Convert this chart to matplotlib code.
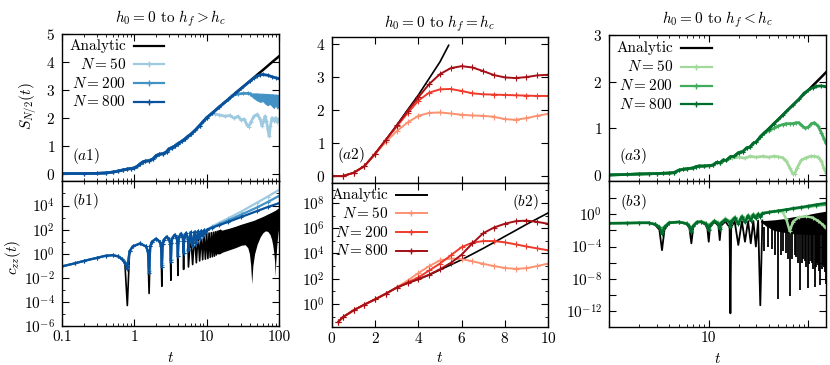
import numpy as np
import matplotlib
matplotlib.use('Agg')
import matplotlib.pyplot as plt
from matplotlib.ticker import FixedLocator, NullFormatter

plt.rcParams['font.family'] = 'serif'
plt.rcParams['font.serif'] = ['cmr10']
plt.rcParams['mathtext.fontset'] = 'cm'
plt.rcParams['axes.unicode_minus'] = False
plt.rcParams['axes.formatter.use_mathtext'] = True
plt.rcParams['font.size'] = 11

# colours for N = 50, 200, 800
blues = ['#9ecae1', '#4292c6', '#08519c']
reds = ['#fc9272', '#ef3b2c', '#a50f15']
greens = ['#a1d99b', '#41ab5d', '#006d2c']
labels = ['Analytic', r'$N=50$', r'$N=200$', r'$N=800$']

# ---------------- (a1) entanglement, h_f > h_c ----------------
a1_t = [0.1, 0.2, 0.3, 0.4, 0.5, 0.6, 0.7, 0.8, 0.9, 1.0,
        1.1, 1.2, 1.3, 1.4, 1.6, 1.8, 2.0, 2.2, 2.5, 2.8,
        3.0, 3.3, 3.6, 4.0, 4.5, 5.0, 5.5, 6.0, 7.0, 8.0,
        9.0, 10, 12, 15, 20, 25, 30, 40, 50, 60,
        70, 80, 100]
a1_analytic = [0.0, 0.0, 0.005, 0.02, 0.05, 0.09, 0.13, 0.16, 0.18, 0.2,
               0.26, 0.34, 0.41, 0.44, 0.46, 0.52, 0.64, 0.69, 0.71, 0.78,
               0.88, 0.93, 0.98, 1.07, 1.15, 1.24, 1.33, 1.4, 1.56, 1.72,
               1.87, 2.0, 2.17, 2.39, 2.66, 2.88, 3.05, 3.32, 3.54, 3.71,
               3.86, 3.99, 4.2]
a1_t50 = [13, 15, 18, 21, 24, 27, 30, 33, 36, 38, 41, 45, 50, 55, 58, 61, 64,
          67, 70, 73, 76, 80, 85, 90, 95, 100]
a1_s50 = [2.13, 2.1, 2.05, 2.08, 1.98, 2.05, 1.92, 1.95, 1.75, 1.68, 1.85, 2.05,
          2.12, 1.95, 1.72, 1.85, 2.05, 1.9, 1.6, 1.35, 1.7, 2.0, 1.9, 2.0, 1.85, 1.95]
a1_t200 = [23, 27, 32, 37, 40]
a1_s200 = [2.8, 2.85, 2.87, 2.87, 2.86]
a1_band_t = [40, 45, 50, 55, 60, 65, 70, 75, 80, 85, 90, 95, 100]
a1_band_hi = [2.87, 2.87, 2.87, 2.86, 2.86, 2.85, 2.85, 2.84, 2.84, 2.83, 2.83, 2.82, 2.82]
a1_band_lo = [2.82, 2.7, 2.62, 2.57, 2.6, 2.5, 2.45, 2.5, 2.42, 2.35, 2.45, 2.33, 2.5]
a1_t800 = [45, 50, 55, 60, 70, 80, 90, 100]
a1_s800 = [3.43, 3.5, 3.54, 3.55, 3.52, 3.47, 3.43, 3.4]

# ---------------- (b1) correlation, log10 values ----------------
b1_t = [0.1, 0.15, 0.2, 0.3, 0.4, 0.5, 0.6, 0.68, 0.74, 0.8,
        0.86, 0.95, 1.2, 1.45, 1.54, 1.6,
        1.66, 1.75, 2.0, 2.25, 2.34, 2.4,
        2.46, 2.55, 2.8, 3.05, 3.14, 3.2,
        3.26, 3.35, 3.6, 3.85, 3.94, 4.0,
        4.06, 4.15, 4.4, 4.65, 4.74, 4.8,
        4.86, 4.95, 5.2, 5.5, 5.6,
        6.0, 6.4, 6.8, 7.2, 7.6, 8.0,
        8.4, 8.8, 9.2, 9.6, 10.0,
        10.4, 10.8, 11.2, 11.6, 12.0,
        12.4, 12.8, 13.2, 13.6, 14.0,
        14.4, 14.8, 15.2, 15.6, 16.0]
b1_black = [-1.05, -0.8, -0.6, -0.35, -0.17, -0.12, -0.22, -0.47, -0.78, -4.3,
            0.2, 0.6, 0.85, 0.6, 0.2, -3.3,
            0.6, 1.0, 1.25, 1.0, 0.6, -2.7,
            0.77, 1.15, 1.4, 1.15, 0.77, -2.2,
            0.92, 1.3, 1.55, 1.3, 0.92, -1.8,
            1.02, 1.4, 1.65, 1.4, 1.02, -1.3,
            1.05, 1.43, 1.68, 1.26, -1.1,
            1.65, -0.9, 1.65, -0.75, 1.66, -0.6,
            1.68, -0.5, 1.69, -0.45, 1.7,
            -0.4, 1.72, -0.3, 1.75, -0.25,
            1.78, -0.2, 1.82, -0.1, 1.86,
            0.0, 1.9, 0.0, 1.95, 0.1]
b1_n800 = [-1.05, -0.8, -0.6, -0.35, -0.17, -0.12, -0.22, -0.47, -0.78, -1.25,
           0.2, 0.6, 0.85, 0.6, 0.2, -1.6,
           0.6, 1.0, 1.25, 1.0, 0.6, -1.07,
           0.77, 1.15, 1.42, 1.15, 0.77, -0.65,
           0.92, 1.3, 1.57, 1.3, 0.92, -0.23,
           1.02, 1.4, 1.67, 1.4, 1.02, 0.04,
           1.05, 1.45, 1.73, 1.26, 0.32,
           1.78, 0.6, 1.82, 0.9, 1.86, 1.2,
           1.9, 1.45, 1.94, 1.7, 1.98]
b1_n200 = [-1.05, -0.8, -0.6, -0.35, -0.17, -0.12, -0.22, -0.45, -0.72, -1.15,
           0.22, 0.6, 0.85, 0.6, 0.22, -1.45,
           0.6, 1.0, 1.25, 1.0, 0.62, -0.95,
           0.78, 1.15, 1.42, 1.15, 0.78, -0.55,
           0.93, 1.3, 1.57, 1.3, 0.93, -0.15,
           1.03, 1.4, 1.67, 1.4, 1.03, 0.1,
           1.06, 1.45, 1.73, 1.3, 0.4,
           1.79, 0.7, 1.83, 1.0, 1.87, 1.28,
           1.91, 1.52, 1.95, 1.75, 1.99]
b1_n50 = [-1.05, -0.8, -0.6, -0.35, -0.17, -0.12, -0.22, -0.42, -0.65, -0.95,
          0.25, 0.62, 0.86, 0.62, 0.25, -1.25,
          0.62, 1.0, 1.26, 1.0, 0.65, -0.8,
          0.8, 1.16, 1.43, 1.16, 0.8, -0.4,
          0.95, 1.31, 1.58, 1.31, 0.95, -0.05,
          1.05, 1.41, 1.68, 1.41, 1.05, 0.2,
          1.08, 1.46, 1.74, 1.35, 0.5,
          1.8, 0.8, 1.84, 1.08, 1.88, 1.35,
          1.92, 1.58, 1.96, 1.8, 2.0]
b1_tail_t = [12, 15, 20, 30, 50, 70, 100]
b1_tail800 = [2.17, 2.38, 2.65, 3.05, 3.55, 3.88, 4.2]
b1_tail200 = [2.2, 2.45, 2.78, 3.25, 3.85, 4.3, 4.8]
b1_tail50 = [2.28, 2.58, 2.95, 3.5, 4.25, 4.75, 5.3]
b1_env_t = [14, 16, 20, 25, 30, 34, 37, 39, 40.5, 42, 43.5, 46, 50, 55, 60, 65,
            70, 75, 79, 82, 85, 87, 88.5, 90, 93, 96, 100]
b1_env_lo = [0.0, 0.1, 0.3, 0.5, 0.7, 0.75, 0.5, 0.0, -0.9, -2.5, -1.0, 0.0, 0.8,
             1.4, 1.75, 1.9, 1.85, 1.6, 1.2, 0.7, 0.0, -0.7, -1.9, -0.8, 0.6, 1.5, 2.4]
b1_env_hi = [1.88, 1.95, 2.1, 2.28, 2.45, 2.55, 2.62, 2.66, 2.69, 2.72, 2.75, 2.8,
             2.9, 3.0, 3.1, 3.2, 3.3, 3.38, 3.45, 3.5, 3.55, 3.58, 3.6, 3.63, 3.7,
             3.75, 3.8]

# ---------------- (a2) / (b2) h_f = h_c ----------------
a2_t_an = [0, 0.5, 1.0, 1.5, 2.0, 2.5, 3.0, 3.5, 4.0, 4.5, 5.0, 5.4]
a2_an = [0, 0.0, 0.1, 0.3, 0.68, 1.1, 1.54, 2.0, 2.45, 2.95, 3.45, 3.95]
a2_t = [0, 0.5, 1.0, 1.5, 2.0, 2.5, 3.0, 3.5, 4.0, 4.5, 5.0, 5.5, 6.0, 6.5,
        7.0, 7.5, 8.0, 8.5, 9.0, 9.5, 10.0]
a2_n800 = [0, 0.0, 0.1, 0.3, 0.68, 1.1, 1.53, 1.97, 2.38, 2.78, 3.08, 3.26, 3.32,
           3.28, 3.17, 3.05, 2.98, 2.96, 2.99, 3.04, 3.06]
a2_n200 = [0, 0.0, 0.1, 0.3, 0.68, 1.1, 1.5, 1.9, 2.28, 2.52, 2.62, 2.63, 2.57,
           2.5, 2.47, 2.46, 2.45, 2.44, 2.43, 2.42, 2.42]
a2_n50 = [0, 0.0, 0.1, 0.3, 0.66, 1.04, 1.36, 1.62, 1.82, 1.91, 1.92, 1.89, 1.85,
          1.83, 1.82, 1.79, 1.72, 1.7, 1.75, 1.82, 1.88]

b2_t = [0.3, 0.5, 1.0, 1.5, 2.0, 2.5, 3.0, 3.5, 4.0, 4.5, 5.0, 5.5, 6.0, 6.5,
        7.0, 7.5, 8.0, 8.5, 9.0, 9.5, 10.0]
b2_an = [-1.4, -1.05, -0.5, -0.05, 0.37, 0.82, 1.3, 1.65, 1.96, 2.3, 2.7, 3.1,
         3.5, 3.95, 4.4, 4.87, 5.35, 5.82, 6.3, 6.75, 7.2]
b2_n800 = [-1.4, -1.05, -0.5, -0.05, 0.37, 0.82, 1.3, 1.65, 1.96, 2.32, 2.75,
           3.25, 3.9, 4.8, 5.6, 6.05, 6.35, 6.55, 6.6, 6.5, 6.35]
b2_n200 = [-1.4, -1.05, -0.5, -0.05, 0.37, 0.82, 1.3, 1.7, 2.1, 2.65, 3.2, 3.85,
           4.5, 4.85, 4.98, 4.98, 4.88, 4.72, 4.55, 4.4, 4.25]
b2_n50 = [-1.4, -1.05, -0.5, -0.05, 0.37, 0.82, 1.32, 1.85, 2.45, 3.0, 3.45, 3.6,
          3.55, 3.38, 3.18, 3.0, 2.85, 2.78, 2.83, 3.0, 3.2]

# ---------------- (a3) h_f < h_c ----------------
a3_t = [1, 1.5, 2, 2.5, 3, 3.5, 4, 4.5, 5, 5.5,
        6, 7, 7.5, 8, 9, 10, 11, 12, 13, 14,
        15, 16.5, 18, 20, 22, 24, 26, 28, 30, 33,
        36, 40, 45, 50, 55, 60, 70, 80, 90, 100,
        110, 120, 135, 150]
a3_an = [0.0, 0.01, 0.02, 0.025, 0.03, 0.035, 0.04, 0.05, 0.1, 0.12,
         0.13, 0.15, 0.18, 0.19, 0.19, 0.2, 0.21, 0.27, 0.26, 0.32,
         0.31, 0.39, 0.4, 0.48, 0.5, 0.58, 0.6, 0.68, 0.71, 0.82,
         0.9, 0.99, 1.1, 1.19, 1.28, 1.36, 1.5, 1.62, 1.73, 1.82,
         1.91, 1.99, 2.1, 2.2]
a3_t800 = [90, 100, 110, 120, 135, 150]
a3_s800 = [1.75, 1.82, 1.87, 1.9, 1.91, 1.89]
a3_t200 = [40, 45, 50, 55, 60, 65, 70, 75, 80, 87, 93, 100, 107, 115, 125, 135, 143, 150]
a3_s200 = [0.95, 1.0, 1.05, 1.08, 1.1, 1.1, 1.1, 1.12, 1.12, 1.05, 1.0, 1.03, 1.1,
           1.12, 1.05, 0.9, 0.78, 0.68]
a3_t50 = [17, 20, 23, 26, 30, 35, 40, 45, 50, 55, 60, 65, 70, 73, 77, 85, 95, 105,
          115, 125, 135, 142, 150]
a3_s50 = [0.36, 0.38, 0.36, 0.4, 0.38, 0.4, 0.38, 0.4, 0.39, 0.37, 0.3, 0.15, 0.02,
          0.03, 0.15, 0.32, 0.37, 0.4, 0.4, 0.38, 0.3, 0.15, 0.05]

# ---------------- (b3) log10 values ----------------
b3_t = [1.0, 1.5, 2.0, 2.5, 2.9, 3.2, 3.4, 3.6, 4.0, 5.0, 6.0, 6.4, 6.7, 7.0, 7.6,
        8.4, 9.3, 9.7, 10.0, 10.3, 11.4, 12.5, 12.9, 13.3, 14.7, 16.2, 16.5, 16.8,
        18.2, 19.8, 21.5, 23.1, 24.8, 26.4, 28.0, 29.7, 31.3, 32.9, 34.5]
b3_black = [-1.1, -1.08, -1.05, -1.05, -1.3, -1.9, -4.45, -1.9, -1.1, -0.95, -1.2,
            -1.7, -3.6, -1.6, -1.0, -0.95, -1.3, -1.8, -3.4, -1.6, -0.92, -1.4, -3.2,
            -1.4, -0.9, -1.6, -12.3, -1.6, -0.85, -3.8, -0.85, -3.4, -0.82, -3.6,
            -0.8, -4.0, -0.78, -11.3, -0.75]
b3_n800 = [-1.1, -1.08, -1.05, -1.05, -1.25, -1.6, -2.4, -1.6, -1.05, -0.95, -1.15,
           -1.5, -2.2, -1.45, -0.98, -0.92, -1.15, -1.5, -2.0, -1.35, -0.85, -1.15,
           -1.8, -1.1, -0.65, -1.0, -1.6, -0.95, -0.45, -1.2, -0.3, -1.0, -0.2, -0.8,
           -0.08, -0.5, 0.02, -0.3, 0.1]
b3_n200 = [-1.1, -1.08, -1.05, -1.05, -1.22, -1.55, -2.2, -1.55, -1.02, -0.94, -1.12,
           -1.45, -2.05, -1.4, -0.95, -0.9, -1.1, -1.42, -1.85, -1.28, -0.8, -1.08,
           -1.62, -1.02, -0.58, -0.9, -1.4, -0.85, -0.38, -1.05, -0.22, -0.85, -0.12,
           -0.65, 0.0, -0.4, 0.07, -0.22, 0.15]
b3_n50 = [-1.1, -1.08, -1.05, -1.05, -1.2, -1.5, -2.0, -1.5, -1.0, -0.93, -1.1,
          -1.4, -1.9, -1.35, -0.9, -0.85, -1.05, -1.35, -1.7, -1.2, -0.75, -1.0,
          -1.45, -0.95, -0.5, -0.8, -1.2, -0.75, -0.3, -0.9, -0.15, -0.7, -0.05,
          -0.5, 0.05, -0.3, 0.12, -0.15, 0.2]
b3_tail_t = [40, 50, 60, 70, 85, 100, 120, 150]
b3_tail800 = [0.25, 0.45, 0.6, 0.75, 0.9, 1.05, 1.22, 1.4]
b3_tail200 = [0.27, 0.45, 0.58, 0.7, 0.83, 0.95, 1.08, 1.2]
b3_t50 = [40, 45, 50, 55, 60, 65, 70, 80, 95, 110, 125, 140, 150]
b3_s50 = [0.3, 0.38, 0.4, 0.3, -0.6, -2.1, -0.9, -0.35, -0.25, -0.4, -0.8, -1.3, -1.7]
b3_env_t = [33, 38, 45, 55, 70, 85, 100, 120, 150]
b3_env_hi = [-0.78, -0.74, -0.68, -0.55, -0.3, -0.15, 0.0, 0.2, 0.4]
b3_env_lo = [-0.9, -1.5, -2.0, -2.2, -2.4, -2.45, -2.5, -2.5, -2.5]
b3_spike_t = [36.2, 39.5, 42.8, 46.1, 49.4, 52.7, 56.0, 59.3, 62.6, 65.9, 69.2, 72.5,
              75.8, 79.1, 82.4, 85.7, 89.0, 92.3, 95.6, 98.9, 102.2, 105.5, 108.8,
              112.1, 115.4, 118.7, 122.0, 125.3, 128.6, 131.9, 135.2, 138.5, 141.8,
              145.1, 148.4]
b3_spike = [-4.5, -4.0, -4.3, -5.0, -10.5, -5.0, -4.5, -4.8, -5.5, -10.1, -5.5, -5.0,
            -5.3, -6.0, -9.4, -6.0, -5.5, -5.8, -6.5, -9.2, -6.2, -5.8, -6.0, -6.8,
            -9.0, -6.5, -6.0, -6.3, -7.0, -8.8, -6.8, -6.3, -6.5, -7.2, -8.6]


def lg(v):
    return 10.0 ** np.asarray(v, dtype=float)


def box(x0, y0, x1, y1):
    return [x0 / 830, 1 - y1 / 365, (x1 - x0) / 830, (y1 - y0) / 365]


def style(ax):
    ax.tick_params(which='both', direction='in', top=True, right=True, labelsize=11)
    ax.tick_params(which='major', length=5, width=0.8, pad=5)
    ax.tick_params(which='minor', length=2.5, width=0.6)
    ax.tick_params(axis='x', which='both', pad=3)
    for s in ax.spines.values():
        s.set_linewidth(1.0)


def legend(ax, xt, x0, x1, ys, cols, lw):
    for i in range(4):
        ax.text(xt, ys[i], labels[i], transform=ax.transAxes, ha='right',
                va='center', fontsize=11)
        ax.plot([x0, (x0 + x1) / 2, x1], [ys[i]] * 3, transform=ax.transAxes,
                color=cols[i], lw=lw, marker='+' if i else None, markevery=[1],
                ms=4, clip_on=False)


fig = plt.figure(figsize=(8.3, 3.65), dpi=100)
a1 = fig.add_axes(box(62, 34, 279, 180.5))
b1 = fig.add_axes(box(62, 180.5, 279, 326))
a2 = fig.add_axes(box(332, 37, 548, 182.7))
b2 = fig.add_axes(box(332, 182.7, 548, 326.7))
a3 = fig.add_axes(box(609, 35, 826, 181))
b3 = fig.add_axes(box(609, 181, 826, 327))

mk = dict(marker='+', ms=3.5, mew=0.8)

# (a1)
a1.plot(a1_t, a1_analytic, color='k', lw=1.8)
a1.plot(a1_t[:33] + a1_t50, a1_analytic[:33] + a1_s50, color=blues[0], lw=2, **mk)
a1.plot(a1_t[:35] + a1_t200, a1_analytic[:35] + a1_s200, color=blues[1], lw=2, **mk)
a1.fill_between(a1_band_t, a1_band_lo, a1_band_hi, color=blues[1], lw=0.8)
a1.plot(a1_t[:38] + a1_t800, a1_analytic[:38] + a1_s800, color=blues[2], lw=2, **mk)
a1.set_xscale('log')
a1.set_xlim(0.1, 100)
a1.set_ylim(-0.25, 5)
a1.set_yticks([0, 1, 2, 3, 4, 5])
a1.set_xticks([0.1, 1, 10, 100])
a1.tick_params(labelbottom=False)
a1.set_ylabel(r'$S_{N/2}(t)$', fontsize=11)
a1.yaxis.set_label_coords(-0.105, 0.51)
a1.set_title(r'$h_0=0$ to $h_f>h_c$', fontsize=11, pad=8)
a1.text(0.045, 0.17, r'$(a1)$', transform=a1.transAxes, va='center', fontsize=11)
legend(a1, 0.295, 0.33, 0.47, [0.92, 0.792, 0.664, 0.536], ['k'] + blues, 1.6)

# (b1)
b1.plot(b1_t, lg(b1_black), color='k', lw=1.2)
b1.fill_between(b1_env_t, lg(b1_env_lo), lg(b1_env_hi), color='k', lw=0)
for vals, tail, c in [(b1_n50, b1_tail50, blues[0]), (b1_n200, b1_tail200, blues[1]),
                      (b1_n800, b1_tail800, blues[2])]:
    b1.plot(b1_t[:56] + b1_tail_t, lg(vals + tail), color=c, lw=1.6, **mk)
b1.set_xscale('log')
b1.set_yscale('log')
b1.set_xlim(0.1, 100)
b1.set_ylim(1e-6, 1.2e6)
b1.set_xticks([0.1, 1, 10, 100], ['0.1', '1', '10', '100'])
b1.set_yticks([1e-6, 1e-4, 1e-2, 1, 1e2, 1e4],
              [r'$10^{-6}$', r'$10^{-4}$', r'$10^{-2}$', r'$10^{0}$', r'$10^{2}$', r'$10^{4}$'])
b1.yaxis.set_minor_locator(FixedLocator([1e-5, 1e-3, 1e-1, 1e1, 1e3, 1e5]))
b1.yaxis.set_minor_formatter(NullFormatter())
b1.set_ylabel(r'$c_{zz}(t)$', fontsize=11)
b1.yaxis.set_label_coords(-0.18, 0.47)
b1.set_xlabel(r'$t$', fontsize=11)
b1.xaxis.set_label_coords(0.5, -0.17)
b1.text(0.045, 0.857, r'$(b1)$', transform=b1.transAxes, va='center', fontsize=11)

# (a2)
a2.plot(a2_t_an, a2_an, color='k', lw=1.2)
for vals, c in [(a2_n50, reds[0]), (a2_n200, reds[1]), (a2_n800, reds[2])]:
    a2.plot(a2_t, vals, color=c, lw=1.4, marker='+', ms=4, mew=0.8)
a2.set_xlim(0, 10)
a2.set_ylim(-0.2, 4.2)
a2.set_xticks([0, 2, 4, 6, 8, 10])
a2.set_yticks([0, 1, 2, 3, 4])
a2.tick_params(labelbottom=False)
a2.set_title(r'$h_0=0$ to $h_f=h_c$', fontsize=11, pad=7)
a2.text(0.025, 0.19, r'$(a2)$', transform=a2.transAxes, va='center', fontsize=11)

# (b2)
b2.plot(b2_t, lg(b2_an), color='k', lw=1.2)
for vals, c in [(b2_n50, reds[0]), (b2_n200, reds[1]), (b2_n800, reds[2])]:
    b2.plot(b2_t, lg(vals), color=c, lw=1.4, marker='+', ms=4, mew=0.8)
b2.set_yscale('log')
b2.set_xlim(0, 10)
b2.set_ylim(10 ** -1.8, 10 ** 9.6)
b2.set_xticks([0, 2, 4, 6, 8, 10])
b2.set_yticks([1, 1e2, 1e4, 1e6, 1e8],
              [r'$10^{0}$', r'$10^{2}$', r'$10^{4}$', r'$10^{6}$', r'$10^{8}$'])
b2.yaxis.set_minor_locator(FixedLocator([1e-1, 1e1, 1e3, 1e5, 1e7, 1e9]))
b2.yaxis.set_minor_formatter(NullFormatter())
b2.set_xlabel(r'$t$', fontsize=11)
b2.xaxis.set_label_coords(0.5, -0.17)
b2.text(0.955, 0.868, r'$(b2)$', transform=b2.transAxes, ha='right', va='center', fontsize=11)
legend(b2, 0.261, 0.296, 0.438, [0.915, 0.788, 0.656, 0.526], ['k'] + reds, 1.4)

# (a3)
a3.plot(a3_t, a3_an, color='k', lw=1.8)
a3.plot(a3_t[:21] + a3_t50, a3_an[:21] + a3_s50, color=greens[0], lw=2, **mk)
a3.plot(a3_t[:31] + a3_t200, a3_an[:31] + a3_s200, color=greens[1], lw=2, **mk)
a3.plot(a3_t[:38] + a3_t800, a3_an[:38] + a3_s800, color=greens[2], lw=2, **mk)
a3.set_xscale('log')
a3.set_xlim(1, 150)
a3.set_ylim(-0.13, 3)
a3.set_yticks([0, 1, 2, 3])
a3.set_xticks([1, 10, 100])
a3.tick_params(labelbottom=False)
a3.set_title(r'$h_0=0$ to $h_f<h_c$', fontsize=11, pad=8)
a3.text(0.047, 0.171, r'$(a3)$', transform=a3.transAxes, va='center', fontsize=11)
legend(a3, 0.294, 0.331, 0.474, [0.913, 0.783, 0.653, 0.525], ['k'] + greens, 1.6)

# (b3)
b3.plot(b3_t, lg(b3_black), color='k', lw=1.3)
b3.fill_between(b3_env_t, lg(b3_env_lo), lg(b3_env_hi), color='k', lw=0)
b3.vlines(b3_spike_t, lg(b3_spike), 10 ** -1.6, color='k', lw=1.3)
b3.plot(b3_t + b3_t50, lg(b3_n50 + b3_s50), color=greens[0], lw=1.8, **mk)
b3.plot(b3_t + b3_tail_t, lg(b3_n200 + b3_tail200), color=greens[1], lw=1.8, **mk)
b3.plot(b3_t + b3_tail_t, lg(b3_n800 + b3_tail800), color=greens[2], lw=1.8, **mk)
b3.set_xscale('log')
b3.set_yscale('log')
b3.set_xlim(1, 150)
b3.set_ylim(1e-14, 10 ** 4.15)
b3.set_xticks([1, 10, 100], ['', '10', ''])
b3.set_yticks([1e-12, 1e-8, 1e-4, 1],
              [r'$10^{-12}$', r'$10^{-8}$', r'$10^{-4}$', r'$10^{0}$'])
b3.yaxis.set_minor_locator(FixedLocator([1e-10, 1e-6, 1e-2, 1e2]))
b3.yaxis.set_minor_formatter(NullFormatter())
b3.set_xlabel(r'$t$', fontsize=11)
b3.xaxis.set_label_coords(0.5, -0.17)
b3.text(0.05, 0.858, r'$(b3)$', transform=b3.transAxes, va='center', fontsize=11)

for ax in [a1, b1, a2, b2, a3, b3]:
    style(ax)
b3.tick_params(axis='y', which='minor', length=5, width=0.8)

fig.savefig('out.png', dpi=100)
